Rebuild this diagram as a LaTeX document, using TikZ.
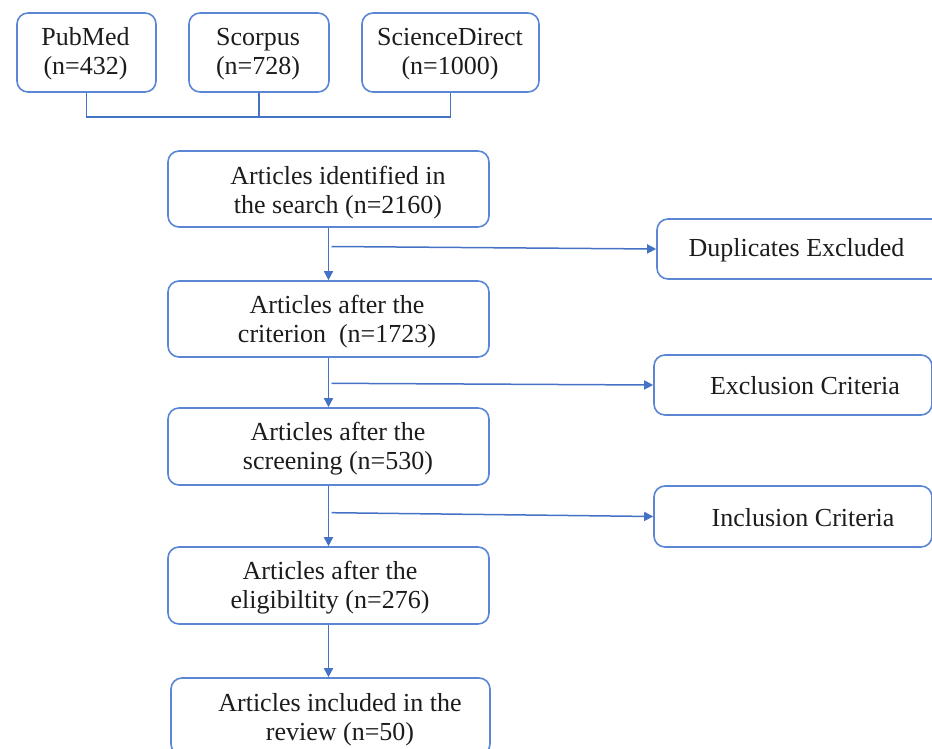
\documentclass[tikz,border=0pt]{standalone}
\usepackage{fontspec}
\setmainfont{Liberation Serif}
\usetikzlibrary{arrows.meta}
\definecolor{boxblue}{RGB}{90,134,212}
\definecolor{lineblue}{RGB}{68,114,196}
\definecolor{txtcol}{RGB}{28,28,28}
\tikzset{
  box/.style={draw=boxblue, line width=1.6pt, rounded corners=11pt, minimum width=#1},
  box/.default={321pt},
  txt/.style={text=txtcol, align=center, inner sep=0pt, font=\fontsize{26}{29}\selectfont},
  conn/.style={draw=lineblue, line width=1.5pt},
  arr/.style={conn, -{Triangle[length=9pt,width=9pt]}}
}
\begin{document}
\begin{tikzpicture}[x=1pt,y=1pt]
\useasboundingbox (0,0) rectangle (932,-749);
% top sources
\node[box=139pt, minimum height=79pt] (pub) at (86.5,-52.5) {};
\node[txt] (tpub) at (85.5,-54) {PubMed\\(n=432)};
\node[box=140pt, minimum height=79pt] (sco) at (259,-52.5) {};
\node[txt] (tsco) at (258,-54) {Scorpus\\(n=728)};
\node[box=177pt, minimum height=79pt] (sd) at (450.5,-52.5) {};
\node[txt] (tsd) at (450,-54) {ScienceDirect\\(n=1000)};
\coordinate (jn) at (259,-117);
\draw[conn] (pub.south) -- (pub.south |- jn) -- (sd.south |- jn) -- (sd.south);
\draw[conn] (sco.south) -- (jn);
% main chain
\node[box, minimum height=76pt] (b1) at (328.5,-189) {};
\node[txt] (t1) at (338,-193) {Articles identified in\\the search (n=2160)};
\node[box, minimum height=76pt] (b2) at (328.5,-319) {};
\node[txt] (t2) at (337,-322) {Articles after the\\criterion\ \ (n=1723)};
\node[box, minimum height=77pt] (b3) at (328.5,-446.5) {};
\node[txt] (t3) at (338,-449) {Articles after the\\screening (n=530)};
\node[box, minimum height=77pt] (b4) at (328.5,-585.5) {};
\node[txt] (t4) at (330,-588) {Articles after the\\eligibiltity (n=276)};
\node[box=319pt, minimum height=77pt] (b5) at (330.5,-716.5) {};
\node[txt] (t5) at (340,-720) {Articles included in the\\review (n=50)};
% side boxes
\node[box=293pt, minimum height=60pt] (dup) at (803.5,-249) {};
\node[txt] (tdup) at (796.5,-250) {Duplicates Excluded};
\node[box=278pt, minimum height=60pt] (exc) at (793,-385) {};
\node[txt] (texc) at (805,-386) {Exclusion Criteria};
\node[box=278pt, minimum height=61pt] (inc) at (793,-516.5) {};
\node[txt] (tinc) at (803,-517.5) {Inclusion Criteria};
% vertical arrows
\draw[arr] (b1.south) -- (b2.north);
\draw[arr] (b2.south) -- (b3.north);
\draw[arr] (b3.south) -- (b4.north);
\draw[arr] (b4.south) -- (b4.south |- b5.north);
% branch arrows
\coordinate (br1) at (331.5,-246.5);
\coordinate (br2) at (331.5,-383.3);
\coordinate (br3) at (331.5,-512.7);
\draw[arr] (br1) -- (dup.west);
\draw[arr] (br2) -- (exc.west);
\draw[arr] (br3) -- (inc.west);
\end{tikzpicture}
\end{document}
